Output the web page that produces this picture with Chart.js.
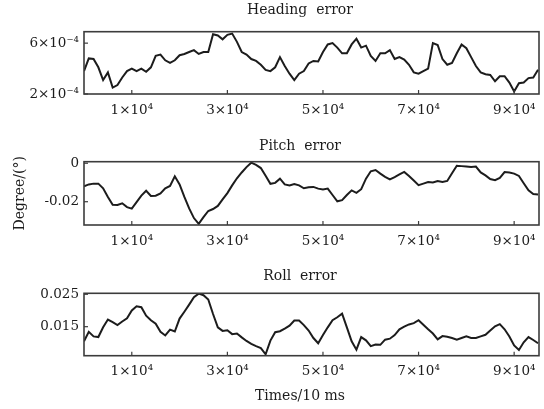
<!DOCTYPE html>
<html>
<head>
<meta charset="utf-8">
<script src="https://cdn.jsdelivr.net/npm/chart.js@4.4.1/dist/chart.umd.min.js"></script>
<style>
  html, body { margin: 0; padding: 0; background: #ffffff; }
  #wrap { position: relative; width: 544px; height: 409px; background: #ffffff; overflow: hidden; }
  #wrap canvas { position: absolute; left: 0; }
</style>
</head>
<body>
<div id="wrap">
  <canvas id="cHeading" width="544" height="125" style="top:0px"></canvas>
  <canvas id="cPitch" width="544" height="125" style="top:128px"></canvas>
  <canvas id="cRoll" width="544" height="153" style="top:256px"></canvas>
</div>
<script>
// ---------------- DATA ----------------
// sample times in units of 1000 × 10 ms
const timesK = [0,1,2,3,4,5,6,7,8,9,10,11,12,13,14,15,16,17,18,19,20,21,22,23,24,25,26,27,28,29,
  30,31,32,33,34,35,36,37,38,39,40,41,42,43,44,45,46,47,48,49,50,51,52,53,54,55,56,57,58,59,
  60,61,62,63,64,65,66,67,68,69,70,71,72,73,74,75,76,77,78,79,80,81,82,83,84,85,86,87,88,89,
  90,91,92,93,94,95];

const panelTitles = ['Heading  error', 'Pitch  error', 'Roll  error'];
const yAxisTitle = 'Degree/(°)';
const xAxisTitle = 'Times/10 ms';

// x tick positions (in thousands) and labels
const xTickValues = [10, 30, 50, 70, 90];
const xTickLabels = ['1×10⁴', '3×10⁴', '5×10⁴', '7×10⁴', '9×10⁴'];

// Heading error, in units of 1e-4 degree
const headingE4 = [3.8,4.8,4.75,4.1,3.1,3.7,2.5,2.7,3.3,3.8,
  4.0,3.8,4.0,3.75,4.1,5.0,5.1,4.65,4.45,4.65,
  5.05,5.15,5.3,5.45,5.15,5.3,5.3,6.7,6.6,6.3,
  6.65,6.75,6.1,5.3,5.1,4.75,4.6,4.3,3.9,3.8,
  4.1,4.9,4.2,3.6,3.1,3.6,3.8,4.4,
  4.6,4.56,5.3,5.9,6.0,5.65,5.2,5.2,5.9,6.35,
  5.65,5.8,5.0,4.6,5.2,5.2,5.45,4.75,4.9,4.7,
  4.3,3.7,3.6,3.8,4.0,6.0,5.85,4.75,4.3,4.45,
  5.2,5.9,5.6,4.9,4.2,3.7,3.55,3.5,3.0,3.4,
  3.4,2.9,2.2,2.85,2.9,3.25,3.3,3.9];
const headingTickValues = [2, 6];
const headingTickLabels = ['2×10⁻⁴', '6×10⁻⁴'];

// Pitch error, degree
const pitch = [-0.0120,-0.0110,-0.0106,-0.0106,-0.0130,-0.0175,-0.0216,-0.0217,-0.0208,-0.0228,
  -0.0236,-0.0202,-0.0168,-0.0143,-0.0170,-0.0169,-0.0157,-0.0130,-0.0118,-0.0068,
  -0.0110,-0.0175,-0.0235,-0.0285,-0.0315,-0.0280,-0.0248,-0.0238,-0.0222,-0.0188,
  -0.0155,-0.0115,-0.0078,-0.0048,-0.0020,0.0003,-0.0009,-0.0025,-0.0065,-0.0107,
  -0.0102,-0.0080,-0.0110,-0.0115,-0.0108,-0.0115,-0.0130,-0.0125,
  -0.0123,-0.0132,-0.0136,-0.0132,-0.0165,-0.0198,-0.0192,-0.0165,-0.0141,-0.0154,
  -0.0135,-0.0080,-0.0042,-0.0035,-0.0054,-0.0071,-0.0084,-0.0072,-0.0058,-0.0045,
  -0.0066,-0.0090,-0.0114,-0.0106,-0.0098,-0.0100,-0.0093,-0.0098,-0.0092,-0.0052,
  -0.0013,-0.0015,-0.0017,-0.0019,-0.0017,-0.0048,-0.0063,-0.0082,-0.0088,-0.0076,
  -0.0046,-0.0048,-0.0054,-0.0066,-0.0104,-0.0141,-0.0160,-0.0162];
const pitchTickValues = [-0.02, 0];
const pitchTickLabels = ['-0.02', '0'];

// Roll error, degree
const roll = [0.0105,0.0134,0.0120,0.0118,0.0148,0.0172,0.0164,0.0155,0.0166,0.0176,
  0.0200,0.0213,0.0210,0.0184,0.0170,0.0159,0.0134,0.0123,0.0141,0.0135,
  0.0175,0.0196,0.0218,0.0241,0.0252,0.0247,0.0234,0.0189,0.0148,0.0137,
  0.0139,0.0127,0.0129,0.0117,0.0106,0.0097,0.0090,0.0084,0.0065,0.0107,
  0.0133,0.0136,0.0144,0.0153,0.0169,0.0169,0.0155,0.0138,
  0.0115,0.0099,0.0124,0.0148,0.0170,0.0179,0.0190,0.0148,0.0105,0.0079,
  0.0118,0.0108,0.0090,0.0095,0.0094,0.0110,0.0113,0.0124,0.0142,0.0150,
  0.0157,0.0161,0.0170,0.0156,0.0142,0.0129,0.0111,0.0121,0.0119,0.0115,
  0.0110,0.0115,0.0120,0.0115,0.0115,0.0120,0.0125,0.0138,0.0151,0.0158,
  0.0142,0.0120,0.0092,0.0078,0.0102,0.0118,0.0109,0.0099];
const rollTickValues = [0.015, 0.025];
const rollTickLabels = ['0.015', '0.025'];

// ---------------- STYLE / PLUGINS ----------------
const FONT = "'DejaVu Serif', 'Liberation Serif', serif";
const INK = '#1c1c1c';

const framePlugin = {
  id: 'frame',
  afterDatasetsDraw(chart) {
    const { ctx, chartArea: a, scales } = chart;
    ctx.save();
    ctx.strokeStyle = '#3c3c3c';
    ctx.lineWidth = 1.2;
    scales.x.ticks.forEach(t => {
      const px = scales.x.getPixelForValue(t.value);
      ctx.beginPath(); ctx.moveTo(px, a.bottom); ctx.lineTo(px, a.bottom - 4); ctx.stroke();
    });
    scales.y.ticks.forEach(t => {
      const py = scales.y.getPixelForValue(t.value);
      ctx.beginPath(); ctx.moveTo(a.left, py); ctx.lineTo(a.left + 4, py); ctx.stroke();
    });
    ctx.lineWidth = 1.6;
    ctx.strokeRect(a.left, a.top, a.right - a.left, a.bottom - a.top);
    ctx.restore();
  }
};

// free-standing texts: panel title, rotated y title, x title
const textsPlugin = {
  id: 'texts',
  afterDraw(chart, args, opts) {
    const { ctx, chartArea: a } = chart;
    (opts.items || []).forEach(it => {
      ctx.save();
      ctx.font = "14px " + FONT;
      ctx.fillStyle = INK;
      ctx.textAlign = 'center';
      ctx.textBaseline = 'middle';
      if (it.rotate) {
        ctx.translate(it.x, (a.top + a.bottom) / 2);
        ctx.rotate(-Math.PI / 2);
        ctx.fillText(it.text, 0, 0);
      } else {
        ctx.fillText(it.text, it.x, it.y);
      }
      ctx.restore();
    });
  }
};

function makePanel(id, cfg) {
  return new Chart(document.getElementById(id), {
    type: 'line',
    data: {
      datasets: [{
        data: timesK.map((t, i) => ({ x: t, y: cfg.values[i] })),
        borderColor: INK,
        borderWidth: 2,
        pointRadius: 0,
        tension: 0,
        fill: false
      }]
    },
    options: {
      responsive: false,
      animation: false,
      devicePixelRatio: 1,
      layout: { padding: { left: 0, right: 5, top: cfg.top, bottom: 0 } },
      plugins: {
        legend: { display: false },
        tooltip: { enabled: false },
        title: { display: false },
        texts: { items: cfg.texts }
      },
      scales: {
        x: {
          type: 'linear',
          min: 0,
          max: 95.2,
          grid: { display: false, drawTicks: false },
          border: { display: false },
          afterBuildTicks: s => { s.ticks = xTickValues.map(v => ({ value: v })); },
          afterFit: s => { s.height = cfg.xHeight; },
          ticks: {
            padding: 8,
            color: INK,
            font: { family: FONT, size: 13.5 },
            maxRotation: 0,
            autoSkip: false,
            callback: (v) => xTickLabels[xTickValues.indexOf(v)]
          }
        },
        y: {
          type: 'linear',
          min: cfg.yMin,
          max: cfg.yMax,
          grid: { display: false, drawTicks: false },
          border: { display: false },
          afterBuildTicks: s => { s.ticks = cfg.tickValues.map(v => ({ value: v })); },
          afterFit: s => { s.width = 84; },
          ticks: {
            padding: 5,
            color: INK,
            font: { family: FONT, size: 13.5 },
            autoSkip: false,
            callback: (v) => cfg.tickLabels[cfg.tickValues.indexOf(v)]
          }
        }
      }
    },
    plugins: [framePlugin, textsPlugin]
  });
}

makePanel('cHeading', {
  values: headingE4, top: 31.7, xHeight: 31,
  yMin: 2, yMax: 6.9,
  tickValues: headingTickValues, tickLabels: headingTickLabels,
  texts: [{ text: panelTitles[0], x: 300, y: 10.4 }]
});

makePanel('cPitch', {
  values: pitch, top: 33.7, xHeight: 28,
  yMin: -0.0321, yMax: 0.0008,
  tickValues: pitchTickValues, tickLabels: pitchTickLabels,
  texts: [{ text: panelTitles[1], x: 300, y: 18 }, { text: yAxisTitle, x: 20, rotate: true }]
});

makePanel('cRoll', {
  values: roll, top: 37.3, xHeight: 53.3,
  yMin: 0.00605, yMax: 0.0253,
  tickValues: rollTickValues, tickLabels: rollTickLabels,
  texts: [{ text: panelTitles[2], x: 300, y: 20 }, { text: xAxisTitle, x: 300, y: 140 }]
});
</script>
</body>
</html>
